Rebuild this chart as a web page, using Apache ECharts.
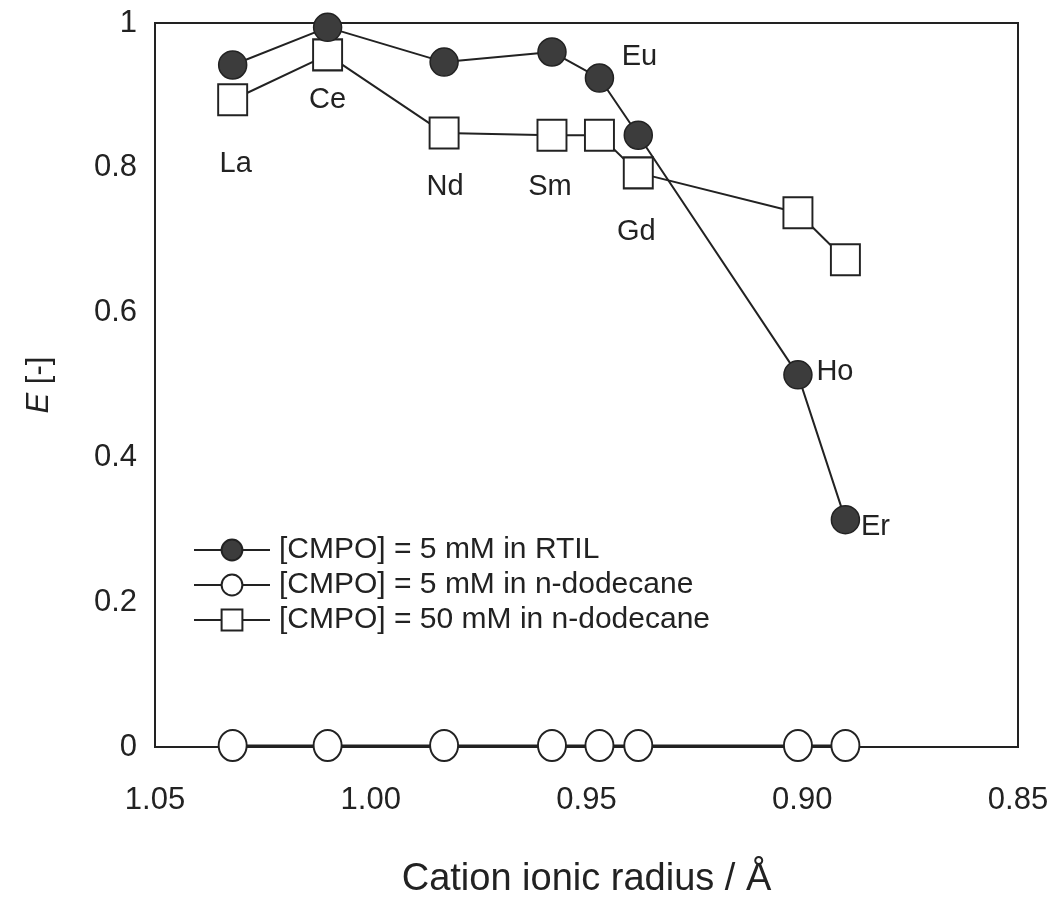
<!DOCTYPE html>
<html>
<head>
<meta charset="utf-8">
<title>E vs cation ionic radius</title>
<script src="https://cdn.jsdelivr.net/npm/echarts@6/dist/echarts.min.js"></script>
<style>
  html, body { margin: 0; padding: 0; background: #fff; }
  #chart { width: 1058px; height: 901px; }
</style>
</head>
<body>
<div id="chart"></div>
<script>
// lanthanides and their ionic radii (Å)
const elements = ['La', 'Ce', 'Nd', 'Sm', 'Eu', 'Gd', 'Ho', 'Er'];
const radius = [1.032, 1.010, 0.983, 0.958, 0.947, 0.938, 0.901, 0.890];

// extraction ratio E [-]
const rtil5 = [0.942, 0.994, 0.946, 0.960, 0.924, 0.845, 0.514, 0.314];
const dodecane5 = [0.002, 0.002, 0.002, 0.002, 0.002, 0.002, 0.002, 0.002];
const dodecane50 = [0.894, 0.956, 0.848, 0.845, 0.845, 0.793, 0.738, 0.673];

const seriesNames = [
    '[CMPO] = 5 mM in RTIL',
    '[CMPO] = 5 mM in n-dodecane',
    '[CMPO] = 50 mM in n-dodecane'
];

const font = "'Liberation Sans', Arial, sans-serif";
const ink = '#222';

// where each element name sits (which series it is attached to)
const labelSpots = {
    La: { series: 2, offset: [3, 64] },
    Ce: { series: 2, offset: [0, 45] },
    Nd: { series: 2, offset: [1, 54] },
    Sm: { series: 2, offset: [-2, 52] },
    Gd: { series: 2, offset: [-2, 59] },
    Eu: { series: 0, offset: [40, -21] },
    Ho: { series: 0, offset: [37, -3] },
    Er: { series: 0, offset: [30, 7] }
};

function buildData(values, idx) {
    return values.map(function (v, i) {
        const el = elements[i];
        const item = { value: [radius[i], v] };
        const spot = labelSpots[el];
        if (spot && spot.series === idx) {
            item.label = {
                show: true,
                formatter: el,
                position: 'inside',
                offset: spot.offset,
                color: ink,
                fontSize: 29,
                fontFamily: font
            };
        }
        return item;
    });
}

const chart = echarts.init(document.getElementById('chart'));

chart.setOption({
    backgroundColor: '#fff',
    animation: false,
    grid: {
        left: 155, right: 40, top: 23, bottom: 154,
        outerBoundsMode: 'none',
        show: true, borderColor: ink, borderWidth: 2
    },
    legend: {
        orient: 'vertical',
        left: 188, top: 530,
        itemWidth: 76, itemHeight: 26, itemGap: 5,
        data: seriesNames,
        textStyle: { color: ink, fontSize: 30, fontFamily: font, padding: [0, 0, 0, 4] }
    },
    xAxis: {
        type: 'value',
        inverse: true,
        min: 0.85, max: 1.05, interval: 0.05,
        name: 'Cation ionic radius / Å',
        nameLocation: 'middle',
        nameGap: 114,
        nameTextStyle: { color: ink, fontSize: 38, fontFamily: font },
        axisLine: { lineStyle: { color: ink, width: 2 } },
        axisTick: { show: false },
        splitLine: { show: false },
        axisLabel: {
            margin: 38, color: ink, fontSize: 31, fontFamily: font,
            formatter: function (v) { return v.toFixed(2); }
        }
    },
    yAxis: {
        type: 'value',
        min: 0, max: 1, interval: 0.2,
        name: '{i|E} [-]',
        nameLocation: 'middle',
        nameGap: 100,
        nameTextStyle: {
            color: ink, fontSize: 31, fontFamily: font,
            rich: { i: { fontStyle: 'italic', fontSize: 31, fontFamily: font, color: ink } }
        },
        axisLine: { lineStyle: { color: ink, width: 2 } },
        axisTick: { show: false },
        splitLine: { show: false },
        axisLabel: {
            margin: 18, color: ink, fontSize: 31, fontFamily: font,
            formatter: function (v) { return (v === 0 || v === 1) ? String(v) : v.toFixed(1); }
        }
    },
    series: [
        {
            name: seriesNames[0],
            type: 'line',
            z: 4,
            symbol: 'circle',
            symbolSize: 28,
            itemStyle: { color: '#3c3c3c', borderColor: ink, borderWidth: 1.5 },
            lineStyle: { color: ink, width: 2 },
            data: buildData(rtil5, 0)
        },
        {
            name: seriesNames[1],
            type: 'line',
            z: 2,
            symbol: 'circle',
            symbolSize: [28, 31],
            itemStyle: { color: '#fff', borderColor: ink, borderWidth: 2 },
            lineStyle: { color: ink, width: 2 },
            data: buildData(dodecane5, 1)
        },
        {
            name: seriesNames[2],
            type: 'line',
            z: 3,
            symbol: 'rect',
            symbolSize: [29, 31],
            itemStyle: { color: '#fff', borderColor: ink, borderWidth: 2 },
            lineStyle: { color: ink, width: 2 },
            data: buildData(dodecane50, 2)
        }
    ]
});

window.addEventListener('resize', function () {
    chart.resize();
});
</script>
</body>
</html>
